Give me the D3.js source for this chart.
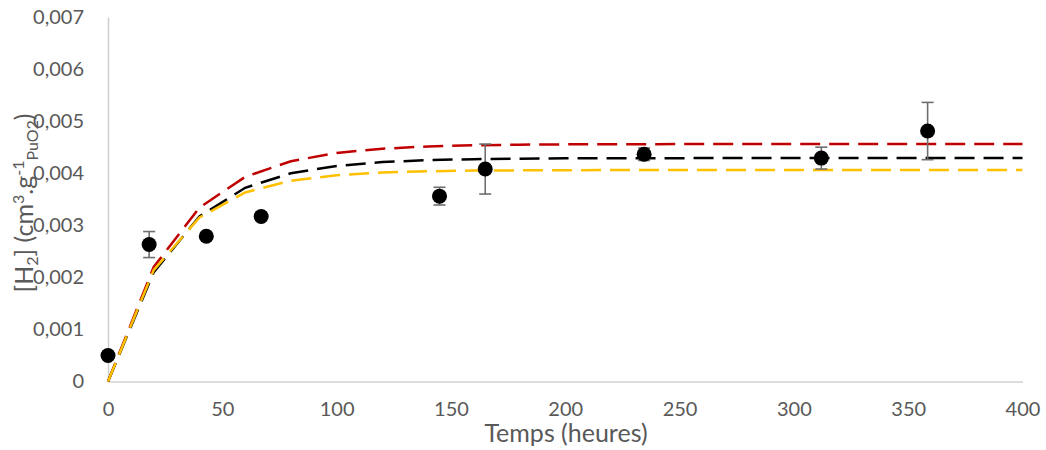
<!DOCTYPE html>
<html>
<head>
<meta charset="utf-8">
<script src="https://cdn.jsdelivr.net/npm/d3@7"></script>
<style>
  html, body { margin: 0; padding: 0; background: #fff; }
  svg { display: block; }
  text { font-family: Lato, "Open Sans", sans-serif; }
</style>
</head>
<body>
<svg id="chart" width="1046" height="450"></svg>
<script>
// ---- data ----
const xTicks = [0, 50, 100, 150, 200, 250, 300, 350, 400];
const yTicks = [0, 0.001, 0.002, 0.003, 0.004, 0.005, 0.006, 0.007];
const yTickLabels = ["0", "0,001", "0,002", "0,003", "0,004", "0,005", "0,006", "0,007"];

// experimental points
const expTime = [0, 18, 43, 67, 145, 165, 234.5, 312, 358.5];
const expH2   = [0.0005, 0.00263, 0.00279, 0.00317, 0.00356, 0.00408, 0.004365, 0.00429, 0.00481];
const expErr  = [0, 0.00025, 0, 0, 0.00017, 0.00048, 0.00012, 0.00021, 0.00055];

// model curves (sampled every 20 h)
const modelTime = [0, 20, 40, 60, 80, 100, 120, 140, 160, 180, 200, 220, 240, 260, 280, 300, 320, 340, 360, 380, 400];
const modelRed    = [0, 0.00220, 0.00334, 0.00393, 0.00423, 0.00439, 0.00447, 0.004515, 0.004537, 0.004548, 0.004554, 0.004557, 0.004558, 0.00456, 0.00456, 0.00456, 0.00456, 0.00456, 0.00456, 0.00456, 0.00456];
const modelBlack  = [0, 0.00210, 0.00317, 0.00372, 0.00400, 0.00414, 0.004214, 0.004251, 0.00427, 0.00428, 0.004285, 0.004287, 0.004289, 0.00429, 0.00429, 0.00429, 0.00429, 0.00429, 0.00429, 0.00429, 0.00429];
const modelYellow = [0, 0.00214, 0.00315, 0.00363, 0.003856, 0.003963, 0.004014, 0.004038, 0.00405, 0.004055, 0.004058, 0.00406, 0.00406, 0.00406, 0.00406, 0.00406, 0.00406, 0.00406, 0.00406, 0.00406, 0.00406];

// ---- chart ----
const svg = d3.select("#chart");
const x = d3.scaleLinear().domain([0, 400]).range([108, 1022.5]);
const y = d3.scaleLinear().domain([0, 0.007]).range([381.5, 17]);

const axisColor = "#d0d0d0";
const textColor = "#595959";

// axes lines
const xAxis = svg.append("g").attr("transform", `translate(0,${y(0)})`)
  .call(d3.axisBottom(x).tickValues(xTicks).tickSize(0).tickPadding(20).tickFormat(d3.format("d")));
const yAxis = svg.append("g").attr("transform", `translate(${x(0)},0)`)
  .call(d3.axisLeft(y).tickValues(yTicks).tickSize(0).tickPadding(24).tickFormat((d, i) => yTickLabels[i]));
[xAxis, yAxis].forEach(g => {
  g.select(".domain").attr("stroke", axisColor).attr("stroke-width", 1.5);
  g.selectAll("text").attr("fill", textColor).style("font-size", "20px").style("font-family", "Lato, sans-serif");
});
xAxis.selectAll("text").attr("dy", "0.71em");

// model curves
const line = d3.line().x((d, i) => x(modelTime[i])).y(d => y(d));
const curves = [
  { vals: modelRed, color: "#C00000" },
  { vals: modelBlack, color: "#000000" },
  { vals: modelYellow, color: "#FFC000" }
];
svg.append("g").selectAll("path").data(curves).join("path")
  .attr("d", d => line(d.vals))
  .attr("fill", "none")
  .attr("stroke", d => d.color)
  .attr("stroke-width", 2.5)
  .attr("stroke-dasharray", "20,9");

// error bars
const pts = expTime.map((t, i) => ({ t, v: expH2[i], e: expErr[i] }));
const eb = svg.append("g").attr("stroke", "#6e6e6e").attr("stroke-width", 1.6);
pts.filter(d => d.e > 0).forEach(d => {
  eb.append("line").attr("x1", x(d.t)).attr("x2", x(d.t)).attr("y1", y(d.v - d.e)).attr("y2", y(d.v + d.e));
  [d.v - d.e, d.v + d.e].forEach(v => {
    eb.append("line").attr("x1", x(d.t) - 6).attr("x2", x(d.t) + 6).attr("y1", y(v)).attr("y2", y(v));
  });
});

// markers
svg.append("g").selectAll("circle").data(pts).join("circle")
  .attr("cx", d => x(d.t)).attr("cy", d => y(d.v)).attr("r", 7.5).attr("fill", "#000");

// axis titles
svg.append("text")
  .attr("x", 566).attr("y", 442)
  .attr("text-anchor", "middle")
  .attr("fill", textColor)
  .style("font-size", "25px")
  .text("Temps (heures)");

const yt = svg.append("text")
  .attr("transform", "translate(33,203) rotate(-90)")
  .attr("text-anchor", "middle")
  .attr("fill", textColor)
  .style("font-size", "25px");
yt.append("tspan").text("[H");
yt.append("tspan").text("2").style("font-size", "16px").attr("dy", 5);
yt.append("tspan").text("] (cm").attr("dy", -5);
yt.append("tspan").text("3").style("font-size", "16px").attr("dy", -9);
yt.append("tspan").text(".g").attr("dy", 9);
yt.append("tspan").text("-1").style("font-size", "16px").attr("dy", -9);
yt.append("tspan").text("PuO2").style("font-size", "16px").attr("dy", 14);
yt.append("tspan").text(")").attr("dy", -5);
</script>
</body>
</html>
